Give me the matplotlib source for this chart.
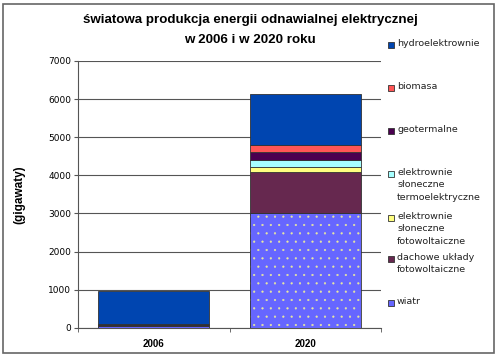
"""Światowa produkcja energii odnawialnej - stacked bars 2006 vs 2020"""
import matplotlib.pyplot as plt
from matplotlib.patches import Rectangle
import numpy as np

years = ['2006', '2020']
# bottom -> top
sources = ['wiatr', 'dachowe układy\nfotowoltaiczne', 'elektrownie\nsłoneczne\nfotowoltaiczne',
           'elektrownie\nsłoneczne\ntermoelektryczne', 'geotermalne', 'biomasa', 'hydroelektrownie']
values_2006 = [60, 10, 5, 0, 15, 10, 880]
values_2020 = [3000, 1090, 115, 190, 220, 175, 1330]
colors = ['#6666FF', '#66284F', '#FFFF80', '#A6FFFF', '#4A0050', '#FF5555', '#0045B0']
hatches = ['..', None, None, None, None, None, None]
title_lines = ['światowa produkcja energii odnawialnej elektrycznej', 'w 2006 i w 2020 roku']

plt.rcParams['font.family'] = ['Liberation Sans', 'DejaVu Sans']
plt.rcParams['hatch.linewidth'] = 0.35

fig = plt.figure(figsize=(5.0, 3.58), dpi=100)
ax = fig.add_axes([0.156, 0.084, 0.606, 0.746])

x = np.arange(len(years))
data = np.array([values_2006, values_2020]).T
bottom = np.zeros(len(years))
for i, src in enumerate(sources):
    if hatches[i]:
        ax.bar(x, data[i], 0.73, bottom=bottom, color=colors[i], hatch=hatches[i],
               edgecolor='#E8E8A0', linewidth=0, zorder=3)
        ax.bar(x, data[i], 0.73, bottom=bottom, fill=False,
               edgecolor='#333333', linewidth=0.6, zorder=4)
    else:
        ax.bar(x, data[i], 0.73, bottom=bottom, color=colors[i],
               edgecolor='#333333', linewidth=0.6, zorder=3)
    bottom += data[i]

ax.set_xlim(-0.5, 1.5)
ax.set_ylim(0, 7000)
ax.set_yticks(np.arange(0, 7001, 1000))
ax.tick_params(axis='y', labelsize=6.5, length=3, color='#555555', pad=2)
for t in ax.get_yticklabels():
    t.set_family('DejaVu Sans')
ax.set_xticks(x)
ax.set_xticklabels(years, fontsize=7, fontweight='bold')
ax.tick_params(axis='x', length=0, pad=8)
ax.set_xticks([-0.5, 0.5, 1.5], minor=True)
ax.tick_params(axis='x', which='minor', length=3, color='#555555')
ax.grid(axis='y', color='#555555', linewidth=0.8, zorder=0)
for s in ['top', 'right']:
    ax.spines[s].set_visible(False)
for s in ['left', 'bottom']:
    ax.spines[s].set_color('#555555')
ax.set_ylabel('(gigawaty)', fontsize=8.5, fontweight='bold', labelpad=16)

fig.text(0.5, 0.944, title_lines[0], ha='center', va='center', fontsize=9.6, fontweight='bold')
fig.text(0.5, 0.889, title_lines[1], ha='center', va='center', fontsize=9.6, fontweight='bold')

# legend drawn by hand, top entry first
legend_y = [44, 87, 130, 173, 217, 258, 302]
for lbl, col, yy in zip(sources[::-1], colors[::-1], legend_y):
    fy = 1 - yy / 358
    fig.patches.append(Rectangle((0.776, fy - 0.011), 0.011, 0.0155, facecolor=col,
                                 edgecolor='#333333', linewidth=0.6,
                                 transform=fig.transFigure))
    fig.text(0.794, fy + 0.015, lbl, ha='left', va='top', family='DejaVu Sans',
             fontsize=6.8, linespacing=1.5, color='#222222')

fig.patches.append(Rectangle((0.006, 0.014), 0.982, 0.976, fill=False,
                             edgecolor='#666666', linewidth=1.2,
                             transform=fig.transFigure))

fig.savefig('out.png', dpi=100)
